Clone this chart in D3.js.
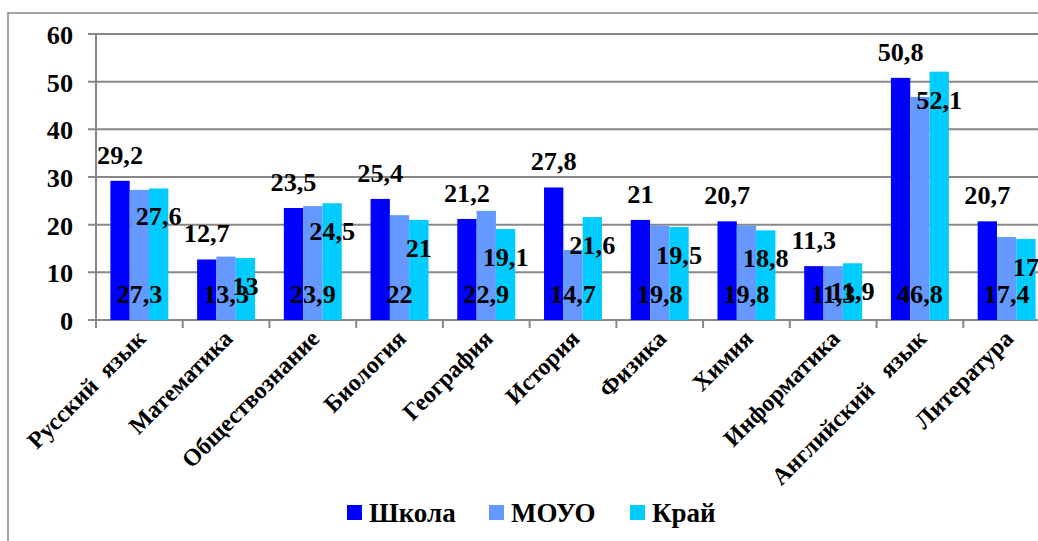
<!DOCTYPE html>
<html><head><meta charset="utf-8"><script src="https://cdn.jsdelivr.net/npm/d3@7"></script></head>
<body style="margin:0">
<svg width="1038" height="541"></svg>
<script>
// data
var categories = ["Русский  язык", "Математика", "Обществознание", "Биология", "География",
  "История", "Физика", "Химия", "Информатика", "Английский   язык", "Литература"];
var seriesNames = ["Школа", "МОУО", "Край"];
var school = [29.2, 12.7, 23.5, 25.4, 21.2, 27.8, 21, 20.7, 11.3, 50.8, 20.7];
var moyo   = [27.3, 13.3, 23.9, 22, 22.9, 14.7, 19.8, 19.8, 11.3, 46.8, 17.4];
var krai   = [27.6, 13, 24.5, 21, 19.1, 21.6, 19.5, 18.8, 11.9, 52.1, 17];
var yTicks = [0, 10, 20, 30, 40, 50, 60];

var colors = ["#0000ff", "#6699ff", "#00ccff"];
var allValues = [school, moyo, krai];
var stretch = 1.05;   // the picture is a bit wider than the font

var svg = d3.select("svg");

// outer chart border
svg.append("rect").attr("x", 8).attr("y", 13).attr("width", 1060).attr("height", 560)
  .attr("fill", "none").attr("stroke", "#868686").attr("stroke-width", 1.5);

var x = d3.scaleBand().domain(categories).range([96, 1050]).paddingInner(0).paddingOuter(0);
var xs = d3.scaleBand().domain(seriesNames).range([0, x.bandwidth()]).paddingInner(0).paddingOuter(0.745);
var y = d3.scaleLinear().domain([0, 60]).range([320, 34]);

function fmt(v) { return String(v).replace(".", ","); }

// stretched text helper
function label(g, px, py, str, anchor, size, font) {
  g.append("text")
    .attr("x", 0).attr("y", 0)
    .attr("transform", "translate(" + px + "," + py + ") scale(" + stretch + ",1)")
    .attr("text-anchor", anchor)
    .style("font-family", font)
    .style("font-weight", "bold")
    .style("font-size", size + "px")
    .text(str);
}

// gridlines
svg.append("g").selectAll("line").data(yTicks).join("line")
  .attr("x1", 88).attr("x2", 1050)
  .attr("y1", d => y(d)).attr("y2", d => y(d))
  .attr("stroke", "#888").attr("stroke-width", 2);

// y axis line
svg.append("line").attr("x1", 96).attr("x2", 96).attr("y1", y(60)).attr("y2", y(0))
  .attr("stroke", "#888").attr("stroke-width", 2);

// x ticks at category boundaries
var bounds = categories.map(c => x(c)).concat([x.range()[1]]);
svg.append("g").selectAll("line").data(bounds).join("line")
  .attr("x1", d => d).attr("x2", d => d).attr("y1", 320).attr("y2", 328)
  .attr("stroke", "#888").attr("stroke-width", 2);

var yLab = svg.append("g");
yTicks.forEach(function (t) { label(yLab, 73, y(t) + 10, String(t), "end", 25, "Liberation Serif"); });

// bars
seriesNames.forEach(function (s, si) {
  svg.append("g").selectAll("rect").data(allValues[si]).join("rect")
    .attr("x", (d, i) => x(categories[i]) + xs(s))
    .attr("width", xs.bandwidth())
    .attr("y", d => y(d))
    .attr("height", d => y(0) - y(d))
    .attr("fill", colors[si]);
});

// value labels
var vl = svg.append("g");
categories.forEach(function (c, i) {
  var cx0 = x(c) + xs("Школа") + xs.bandwidth() / 2;
  var cx1 = x(c) + xs("МОУО") + xs.bandwidth() / 2;
  var cx2 = x(c) + xs("Край") + xs.bandwidth() / 2;
  label(vl, cx0, y(school[i]) - 17, fmt(school[i]), "middle", 25, "Times New Roman");
  label(vl, cx1, 303, fmt(moyo[i]), "middle", 25, "Times New Roman");
  label(vl, cx2, y(krai[i]) + 37, fmt(krai[i]), "middle", 25, "Times New Roman");
});

// category labels, rotated
svg.append("g").selectAll("text").data(categories).join("text")
  .attr("x", 0).attr("y", 0)
  .attr("transform", d => "translate(" + (x(d) + x.bandwidth() / 2 + 8) + ",340) rotate(-45)")
  .attr("text-anchor", "end")
  .attr("font-family", "serif")
  .attr("font-weight", "bold")
  .attr("font-size", 24)
  .attr("xml:space", "preserve")
  .text(d => d);

// legend
var leg = svg.append("g");
var legX = [347, 489, 630];
seriesNames.forEach(function (s, si) {
  leg.append("rect").attr("x", legX[si]).attr("y", 505).attr("width", 15).attr("height", 15)
    .attr("fill", colors[si]);
  leg.append("text").attr("x", legX[si] + 22).attr("y", 522)
    .attr("font-weight", "bold").attr("font-size", 27).text(s);
});
</script>
</body>
</html>
